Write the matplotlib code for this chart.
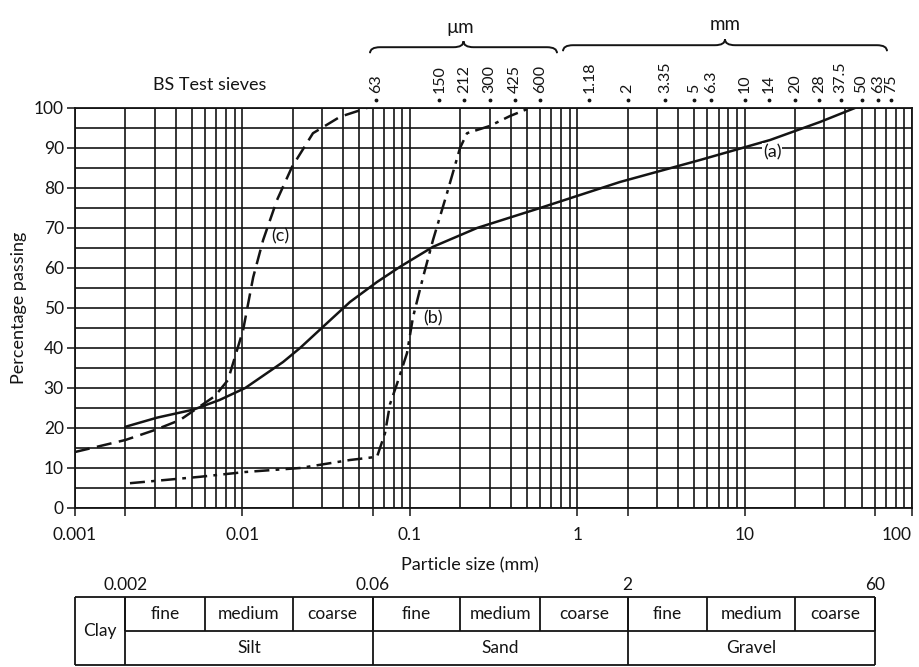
import numpy as np
import matplotlib
matplotlib.use('Agg')
import matplotlib.pyplot as plt
from matplotlib.ticker import LogLocator, MultipleLocator, NullFormatter, NullLocator, FixedLocator
from matplotlib.path import Path
from matplotlib.patches import PathPatch

plt.rcParams['font.family'] = ['Lato', 'DejaVu Sans']

# ---------------- data ----------------
a_size = [0.002, 0.0031, 0.0051, 0.0073, 0.0104, 0.0175, 0.0221, 0.0303, 0.0439,
          0.0637, 0.0874, 0.1376, 0.252, 0.6, 1.8, 5.42, 14.2, 28.2, 45.6]
a_pass = [20.3, 22.6, 24.6, 27, 30, 36.5, 40, 45.3, 51.5,
          56.5, 60.3, 65.3, 70, 75, 81.5, 87, 92, 96.5, 100]

b_size = [0.00213, 0.00558, 0.0104, 0.0221, 0.0439, 0.0637, 0.0711, 0.0762, 0.0838,
          0.0962, 0.1045, 0.12, 0.1376, 0.1668, 0.1995, 0.2198, 0.3, 0.397, 0.522]
b_pass = [6.2, 7.8, 9, 10, 12, 12.8, 18.7, 26, 31,
          38.7, 47.7, 57.7, 67, 78.7, 90, 93.7, 95.5, 98, 100]

c_size = [0.001, 0.002, 0.003, 0.00424, 0.00686, 0.0082, 0.0101, 0.0116, 0.0133,
          0.0161, 0.0198, 0.0264, 0.0383, 0.0555]
c_pass = [14, 17, 19.5, 22, 28, 32, 44.5, 57.7, 67,
          77, 85.3, 93.7, 97.8, 100]

curve_labels = ['(a)', '(b)', '(c)']
curve_label_x = [14.6, 0.138, 0.0168]
curve_label_y = [89, 47.5, 68]

sieve_mm = [0.063, 0.15, 0.212, 0.3, 0.425, 0.6, 1.18, 2, 3.35, 5, 6.3,
            10, 14, 20, 28, 37.5, 50, 63, 75]
sieve_labels = ['63', '150', '212', '300', '425', '600', '1.18', '2', '3.35', '5', '6.3',
                '10', '14', '20', '28', '37.5', '50', '63', '75']

x_ticks = [0.001, 0.01, 0.1, 1, 10, 100]
x_ticklabels = ['0.001', '0.01', '0.1', '1', '10', '100']

main_bounds = [0.001, 0.002, 0.06, 2, 60]
main_bound_labels = ['0.002', '0.06', '2', '60']
main_labels = ['Silt', 'Sand', 'Gravel']
sub_bounds = [0.002, 0.006, 0.02, 0.06, 0.2, 0.6, 2, 6, 20, 60]
sub_labels = ['fine', 'medium', 'coarse'] * 3

# ---------------- figure ----------------
W, H = 920, 667
fig = plt.figure(figsize=(W / 100, H / 100), dpi=100)
fig.patch.set_facecolor('white')

ax = fig.add_axes([75 / W, (H - 508) / H, 837 / W, 400 / H])
ax.set_xscale('log')
ax.set_xlim(0.001, 100)
ax.set_ylim(0, 100)

ink = '#141414'
fs = 12.5
ax.xaxis.set_major_locator(FixedLocator(x_ticks))
ax.set_xticklabels(x_ticklabels)
ax.xaxis.set_minor_locator(LogLocator(base=10, subs=np.arange(2, 10)))
ax.xaxis.set_minor_formatter(NullFormatter())
ax.yaxis.set_major_locator(MultipleLocator(10))
ax.yaxis.set_minor_locator(MultipleLocator(5))
ax.grid(True, which='both', color=ink, lw=1.2)
ax.set_axisbelow(True)
for s in ax.spines.values():
    s.set_color(ink)
    s.set_linewidth(1.3)
ax.tick_params(axis='x', which='major', length=6, width=1.1, pad=8, labelsize=fs, colors=ink)
ax.tick_params(axis='x', which='minor', length=0)
ax.tick_params(axis='y', which='major', length=6, width=1.1, pad=2, labelsize=fs, colors=ink)
ax.tick_params(axis='y', which='minor', length=0)
ax.get_xticklabels()[-1].set_horizontalalignment('right')
ax.set_ylabel('Percentage passing', fontsize=13, color=ink, labelpad=5)

# extra ticks at classification boundaries
sec_b = ax.secondary_xaxis('bottom')
sec_b.xaxis.set_major_locator(FixedLocator(main_bounds[1:]))
sec_b.xaxis.set_minor_locator(NullLocator())
sec_b.tick_params(length=6, width=1.1, labelbottom=False, color=ink)
sec_b.spines['bottom'].set_visible(False)

# curves
ax.plot(a_size, a_pass, color=ink, lw=1.8, solid_capstyle='round', solid_joinstyle='round')
ax.plot(b_size, b_pass, color=ink, lw=1.8, dashes=(6, 2.5, 1.5, 2.5))
ax.plot(c_size, c_pass, color=ink, lw=1.8, dashes=(6, 3))
for lab, lx, ly in zip(curve_labels, curve_label_x, curve_label_y):
    ax.text(lx, ly, lab, fontsize=13, ha='center', va='center', color=ink,
            bbox=dict(facecolor='white', edgecolor='none', pad=0.5) if lab == '(a)' else None)

# top sieve labels
sec_t = ax.secondary_xaxis('top')
sec_t.xaxis.set_major_locator(FixedLocator(sieve_mm))
sec_t.xaxis.set_ticklabels(sieve_labels)
sec_t.xaxis.set_minor_locator(NullLocator())
sec_t.tick_params(length=0, pad=11, labelsize=11.5, labelrotation=90, colors=ink)
sec_t.spines['top'].set_visible(False)
ax.plot(sieve_mm, [1.02] * len(sieve_mm), ls='none', marker='.', ms=3.5, color=ink,
        transform=ax.get_xaxis_transform(), clip_on=False)

ax.text(0.161, 1.0575, 'BS Test sieves', transform=ax.transAxes, fontsize=13,
        ha='center', va='center', color=ink)

# braces (axes-fraction coordinates)
def brace(x0, x1, y, dx=0.012, dy=0.015):
    xm = (x0 + x1) / 2
    verts = [(x0, y - dy), (x0, y), (x0 + dx, y),
             (xm - dx, y), (xm, y), (xm, y + dy),
             (xm, y), (xm + dx, y),
             (x1 - dx, y), (x1, y), (x1, y - dy)]
    codes = [Path.MOVETO, Path.CURVE3, Path.CURVE3,
             Path.LINETO, Path.CURVE3, Path.CURVE3,
             Path.CURVE3, Path.CURVE3,
             Path.LINETO, Path.CURVE3, Path.CURVE3]
    p = PathPatch(Path(verts, codes), fill=False, lw=1.4, edgecolor=ink,
                  transform=ax.transAxes, clip_on=False)
    ax.add_patch(p)

brace((370 - 75) / 837, (557 - 75) / 837, 1.152)
brace((563 - 75) / 837, (887 - 75) / 837, 1.157)
ax.text((460 - 75) / 837, 1.2, 'µm', transform=ax.transAxes, fontsize=13.5,
        ha='center', va='center', color=ink)
ax.text((725 - 75) / 837, 1.2075, 'mm', transform=ax.transAxes, fontsize=13.5,
        ha='center', va='center', color=ink)

fig.text(470 / W, 1 - 565 / H, 'Particle size (mm)', fontsize=13, ha='center',
         va='center', color=ink)

# ---------------- classification table ----------------
ax2 = fig.add_axes([75 / W, 2 / H, 837 / W, 68 / H])
ax2.set_xscale('log')
ax2.set_xlim(0.001, 100)
ax2.set_ylim(0, 2)
ax2.axis('off')
lw_t = 1.3
ax2.hlines([0, 2], main_bounds[0], main_bounds[-1], color=ink, lw=lw_t, clip_on=False)
ax2.hlines([1], main_bounds[1], main_bounds[-1], color=ink, lw=lw_t, clip_on=False)
ax2.vlines(main_bounds, 0, 2, color=ink, lw=lw_t, clip_on=False)
ax2.vlines(sub_bounds, 1, 2, color=ink, lw=lw_t, clip_on=False)
ax2.text(np.sqrt(main_bounds[0] * main_bounds[1]), 1, 'Clay', ha='center', va='center',
         fontsize=fs, color=ink)
for i, lab in enumerate(sub_labels):
    xc = np.sqrt(sub_bounds[i] * sub_bounds[i + 1])
    ax2.text(xc, 1.5, lab, ha='center', va='center', fontsize=fs, color=ink)
for i, lab in enumerate(main_labels):
    xc = np.sqrt(main_bounds[i + 1] * main_bounds[i + 2])
    ax2.text(xc, 0.5, lab, ha='center', va='center', fontsize=fs, color=ink)
for b, lab in zip(main_bounds[1:], main_bound_labels):
    ax2.text(b, 2.12, lab, ha='center', va='bottom', fontsize=fs, color=ink, clip_on=False)

fig.savefig('out.png', dpi=100, facecolor='white')
